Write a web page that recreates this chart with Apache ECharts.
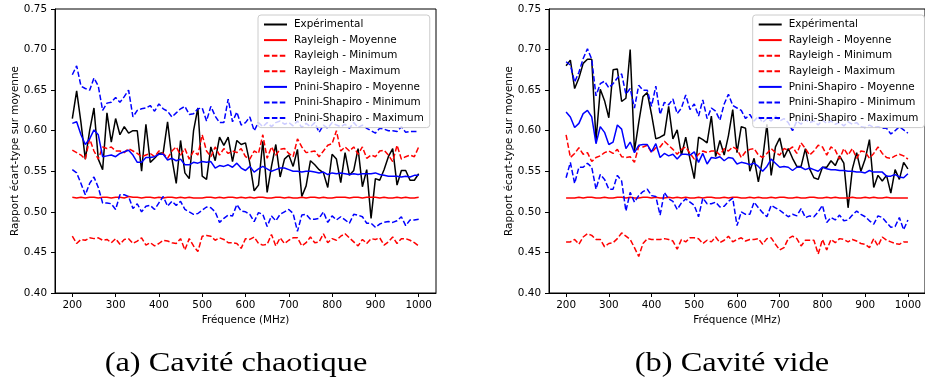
<!DOCTYPE html>
<html>
<head>
<meta charset="utf-8">
<script src="https://cdn.jsdelivr.net/npm/echarts@6.0.0/dist/echarts.min.js"></script>
<style>
  html, body { margin: 0; padding: 0; background: #fff; }
  #chart { width: 925px; height: 385px; }
</style>
</head>
<body>
<div id="chart"></div>
<script>
const freq = [
  200, 210, 220, 230, 240, 250, 260, 270, 280, 290,
  300, 310, 320, 330, 340, 350, 360, 370, 380, 390,
  400, 410, 420, 430, 440, 450, 460, 470, 480, 490,
  500, 510, 520, 530, 540, 550, 560, 570, 580, 590,
  600, 610, 620, 630, 640, 650, 660, 670, 680, 690,
  700, 710, 720, 730, 740, 750, 760, 770, 780, 790,
  800, 810, 820, 830, 840, 850, 860, 870, 880, 890,
  900, 910, 920, 930, 940, 950, 960, 970, 980, 990,
  1000
];
const xTicks = [200, 300, 400, 500, 600, 700, 800, 900, 1000];
const yTicks = [0.40, 0.45, 0.50, 0.55, 0.60, 0.65, 0.70, 0.75];

// (a) Cavité chaotique
const expA = [
  0.615, 0.649, 0.610, 0.565, 0.600, 0.628, 0.565, 0.552, 0.622, 0.586,
  0.615, 0.595, 0.605, 0.597, 0.600, 0.600, 0.550, 0.608, 0.561, 0.566,
  0.572, 0.573, 0.611, 0.566, 0.535, 0.588, 0.548, 0.541, 0.600, 0.628,
  0.544, 0.540, 0.580, 0.563, 0.592, 0.582, 0.592, 0.562, 0.588, 0.583,
  0.585, 0.560, 0.526, 0.533, 0.587, 0.524, 0.556, 0.583, 0.543, 0.565,
  0.570, 0.556, 0.577, 0.519, 0.532, 0.563, 0.558, 0.552, 0.548, 0.530,
  0.571, 0.565, 0.536, 0.573, 0.545, 0.551, 0.578, 0.531, 0.552, 0.492,
  0.541, 0.539, 0.552, 0.568, 0.578, 0.533, 0.551, 0.551, 0.539, 0.539,
  0.547
];
const rayMeanA = [
  0.518, 0.517, 0.518, 0.517, 0.518, 0.518, 0.517, 0.518, 0.518, 0.517,
  0.518, 0.518, 0.517, 0.519, 0.518, 0.518, 0.517, 0.518, 0.518, 0.517,
  0.518, 0.517, 0.518, 0.518, 0.517, 0.518, 0.517, 0.518, 0.517, 0.517,
  0.517, 0.518, 0.518, 0.517, 0.518, 0.517, 0.518, 0.518, 0.517, 0.518,
  0.517, 0.518, 0.517, 0.518, 0.518, 0.517, 0.517, 0.518, 0.518, 0.517,
  0.518, 0.517, 0.517, 0.518, 0.517, 0.518, 0.518, 0.517, 0.518, 0.517,
  0.517, 0.518, 0.518, 0.518, 0.517, 0.518, 0.518, 0.517, 0.518, 0.518,
  0.518, 0.517, 0.518, 0.517, 0.517, 0.518, 0.517, 0.518, 0.517, 0.517,
  0.518
];
const rayMinA = [
  0.470, 0.461, 0.466, 0.465, 0.468, 0.467, 0.468, 0.465, 0.466, 0.462,
  0.467, 0.460, 0.466, 0.467, 0.461, 0.464, 0.468, 0.459, 0.462, 0.458,
  0.461, 0.465, 0.464, 0.462, 0.461, 0.467, 0.453, 0.467, 0.458, 0.451,
  0.470, 0.471, 0.470, 0.465, 0.468, 0.466, 0.462, 0.462, 0.461, 0.455,
  0.467, 0.466, 0.469, 0.461, 0.459, 0.460, 0.472, 0.458, 0.468, 0.461,
  0.465, 0.468, 0.468, 0.458, 0.462, 0.469, 0.462, 0.463, 0.473, 0.462,
  0.467, 0.465, 0.470, 0.473, 0.468, 0.463, 0.458, 0.466, 0.461, 0.467,
  0.466, 0.468, 0.459, 0.463, 0.469, 0.461, 0.467, 0.467, 0.465, 0.462,
  0.458
];
const rayMaxA = [
  0.576, 0.573, 0.570, 0.565, 0.590, 0.575, 0.565, 0.580, 0.578, 0.580,
  0.575, 0.575, 0.573, 0.578, 0.575, 0.572, 0.568, 0.570, 0.572, 0.568,
  0.575, 0.572, 0.566, 0.575, 0.580, 0.570, 0.578, 0.565, 0.575, 0.570,
  0.595, 0.575, 0.568, 0.580, 0.570, 0.578, 0.572, 0.575, 0.573, 0.578,
  0.568, 0.565, 0.575, 0.572, 0.595, 0.566, 0.580, 0.570, 0.577, 0.578,
  0.572, 0.568, 0.590, 0.580, 0.573, 0.574, 0.575, 0.568, 0.575, 0.582,
  0.584, 0.600, 0.575, 0.580, 0.575, 0.580, 0.571, 0.580, 0.566, 0.570,
  0.568, 0.575, 0.576, 0.570, 0.562, 0.582, 0.565, 0.568, 0.570, 0.568,
  0.580
];
const psMeanA = [
  0.609, 0.611, 0.595, 0.583, 0.590, 0.601, 0.595, 0.568, 0.569, 0.570,
  0.568, 0.572, 0.574, 0.576, 0.570, 0.561, 0.561, 0.567, 0.567, 0.568,
  0.571, 0.571, 0.564, 0.566, 0.563, 0.565, 0.558, 0.558, 0.561, 0.560,
  0.562, 0.561, 0.562, 0.554, 0.557, 0.556, 0.558, 0.555, 0.560, 0.554,
  0.551, 0.556, 0.549, 0.553, 0.556, 0.553, 0.550, 0.552, 0.554, 0.554,
  0.552, 0.550, 0.550, 0.549, 0.550, 0.550, 0.549, 0.548, 0.549, 0.546,
  0.548, 0.547, 0.548, 0.547, 0.546, 0.547, 0.546, 0.547, 0.547, 0.547,
  0.548, 0.546, 0.545, 0.544, 0.544, 0.544, 0.543, 0.544, 0.543, 0.545,
  0.545
];
const psMinA = [
  0.552, 0.548, 0.535, 0.521, 0.535, 0.543, 0.530, 0.511, 0.511, 0.510,
  0.503, 0.521, 0.521, 0.519, 0.504, 0.510, 0.500, 0.507, 0.508, 0.503,
  0.511, 0.519, 0.507, 0.513, 0.508, 0.513, 0.503, 0.500, 0.497, 0.498,
  0.502, 0.506, 0.505, 0.500, 0.487, 0.492, 0.496, 0.495, 0.509, 0.501,
  0.500, 0.497, 0.488, 0.499, 0.497, 0.482, 0.495, 0.489, 0.497, 0.500,
  0.503, 0.498, 0.476, 0.496, 0.497, 0.491, 0.491, 0.492, 0.500, 0.487,
  0.495, 0.490, 0.494, 0.490, 0.486, 0.497, 0.496, 0.494, 0.486, 0.486,
  0.481, 0.485, 0.487, 0.488, 0.487, 0.489, 0.494, 0.483, 0.490, 0.490,
  0.491
];
const psMaxA = [
  0.669, 0.680, 0.655, 0.652, 0.650, 0.665, 0.655, 0.625, 0.634, 0.635,
  0.641, 0.635, 0.642, 0.650, 0.617, 0.625, 0.627, 0.628, 0.631, 0.624,
  0.633, 0.627, 0.624, 0.617, 0.622, 0.627, 0.630, 0.620, 0.621, 0.627,
  0.628, 0.612, 0.630, 0.618, 0.610, 0.610, 0.639, 0.611, 0.623, 0.607,
  0.610, 0.617, 0.600, 0.610, 0.605, 0.610, 0.605, 0.610, 0.612, 0.608,
  0.610, 0.606, 0.612, 0.604, 0.609, 0.605, 0.610, 0.598, 0.607, 0.603,
  0.610, 0.607, 0.605, 0.608, 0.603, 0.610, 0.604, 0.607, 0.603, 0.600,
  0.597, 0.603, 0.602, 0.600, 0.600, 0.599, 0.605, 0.598, 0.599, 0.599,
  0.599
];

// (b) Cavité vide
const expB = [
  0.680, 0.687, 0.652, 0.665, 0.683, 0.688, 0.688, 0.588, 0.651, 0.637,
  0.616, 0.675, 0.676, 0.636, 0.640, 0.700, 0.575, 0.610, 0.642, 0.647,
  0.620, 0.590, 0.592, 0.595, 0.630, 0.590, 0.601, 0.570, 0.592, 0.565,
  0.541, 0.592, 0.589, 0.585, 0.618, 0.568, 0.588, 0.570, 0.594, 0.626,
  0.573, 0.605, 0.603, 0.550, 0.566, 0.537, 0.565, 0.608, 0.545, 0.580,
  0.591, 0.567, 0.578, 0.566, 0.556, 0.556, 0.578, 0.553, 0.542, 0.540,
  0.555, 0.555, 0.563, 0.557, 0.569, 0.560, 0.505, 0.553, 0.573, 0.550,
  0.565, 0.589, 0.530, 0.545, 0.538, 0.545, 0.523, 0.552, 0.540, 0.561,
  0.553
];
const rayMeanB = [
  0.517, 0.517, 0.517, 0.518, 0.517, 0.518, 0.518, 0.517, 0.517, 0.518,
  0.517, 0.517, 0.518, 0.518, 0.517, 0.518, 0.517, 0.517, 0.518, 0.518,
  0.517, 0.518, 0.517, 0.517, 0.518, 0.517, 0.518, 0.517, 0.518, 0.517,
  0.517, 0.518, 0.517, 0.518, 0.518, 0.517, 0.517, 0.518, 0.517, 0.518,
  0.518, 0.517, 0.517, 0.518, 0.517, 0.518, 0.517, 0.517, 0.518, 0.517,
  0.518, 0.518, 0.517, 0.517, 0.518, 0.517, 0.517, 0.518, 0.518, 0.517,
  0.517, 0.518, 0.517, 0.518, 0.517, 0.517, 0.517, 0.518, 0.517, 0.517,
  0.518, 0.517, 0.518, 0.517, 0.517, 0.518, 0.517, 0.517, 0.517, 0.517,
  0.517
];
const rayMinB = [
  0.463, 0.463, 0.466, 0.460, 0.469, 0.473, 0.471, 0.466, 0.466, 0.457,
  0.461, 0.462, 0.467, 0.474, 0.470, 0.466, 0.456, 0.445, 0.461, 0.467,
  0.466, 0.466, 0.466, 0.467, 0.466, 0.464, 0.454, 0.466, 0.463, 0.468,
  0.468, 0.467, 0.461, 0.465, 0.463, 0.469, 0.462, 0.465, 0.470, 0.463,
  0.466, 0.468, 0.464, 0.466, 0.466, 0.467, 0.460, 0.467, 0.468, 0.460,
  0.453, 0.456, 0.467, 0.470, 0.467, 0.458, 0.465, 0.465, 0.465, 0.448,
  0.466, 0.453, 0.466, 0.462, 0.467, 0.466, 0.463, 0.466, 0.464, 0.461,
  0.460, 0.456, 0.467, 0.458, 0.469, 0.465, 0.463, 0.461, 0.460, 0.463,
  0.463
];
const rayMaxB = [
  0.595, 0.567, 0.572, 0.579, 0.571, 0.573, 0.562, 0.567, 0.569, 0.573,
  0.575, 0.572, 0.577, 0.568, 0.567, 0.568, 0.561, 0.581, 0.580, 0.582,
  0.573, 0.579, 0.580, 0.587, 0.582, 0.577, 0.571, 0.577, 0.580, 0.572,
  0.565, 0.571, 0.575, 0.573, 0.575, 0.575, 0.570, 0.578, 0.575, 0.580,
  0.577, 0.567, 0.574, 0.577, 0.578, 0.570, 0.567, 0.572, 0.578, 0.573,
  0.570, 0.578, 0.576, 0.580, 0.572, 0.585, 0.578, 0.570, 0.575, 0.582,
  0.580, 0.570, 0.580, 0.576, 0.565, 0.578, 0.570, 0.578, 0.566, 0.575,
  0.574, 0.566, 0.572, 0.580, 0.572, 0.567, 0.566, 0.569, 0.571, 0.569,
  0.565
];
const psMeanB = [
  0.623, 0.617, 0.604, 0.609, 0.621, 0.625, 0.617, 0.584, 0.605, 0.598,
  0.583, 0.586, 0.607, 0.602, 0.578, 0.586, 0.573, 0.582, 0.583, 0.583,
  0.574, 0.584, 0.567, 0.572, 0.569, 0.571, 0.565, 0.571, 0.571, 0.570,
  0.574, 0.561, 0.572, 0.559, 0.567, 0.566, 0.568, 0.563, 0.567, 0.566,
  0.559, 0.561, 0.560, 0.558, 0.560, 0.556, 0.550, 0.556, 0.565, 0.560,
  0.555, 0.556, 0.555, 0.551, 0.555, 0.555, 0.552, 0.554, 0.552, 0.550,
  0.555, 0.553, 0.552, 0.552, 0.551, 0.551, 0.550, 0.550, 0.549, 0.549,
  0.548, 0.551, 0.549, 0.549, 0.549, 0.544, 0.544, 0.546, 0.543, 0.542,
  0.547
];
const psMinB = [
  0.542, 0.561, 0.535, 0.555, 0.555, 0.560, 0.555, 0.528, 0.546, 0.540,
  0.528, 0.528, 0.545, 0.538, 0.501, 0.524, 0.512, 0.520, 0.525, 0.528,
  0.520, 0.519, 0.496, 0.524, 0.516, 0.513, 0.503, 0.511, 0.516, 0.512,
  0.508, 0.494, 0.517, 0.510, 0.510, 0.512, 0.506, 0.507, 0.513, 0.517,
  0.483, 0.500, 0.497, 0.497, 0.512, 0.505, 0.499, 0.494, 0.508, 0.505,
  0.502, 0.498, 0.494, 0.497, 0.495, 0.504, 0.493, 0.495, 0.494, 0.500,
  0.508, 0.487, 0.493, 0.490, 0.496, 0.489, 0.490, 0.496, 0.501, 0.497,
  0.494, 0.489, 0.485, 0.495, 0.493, 0.487, 0.481, 0.482, 0.493, 0.478,
  0.490
];
const psMaxB = [
  0.685, 0.681, 0.660, 0.672, 0.689, 0.701, 0.688, 0.643, 0.658, 0.661,
  0.653, 0.658, 0.665, 0.670, 0.645, 0.652, 0.628, 0.656, 0.650, 0.650,
  0.630, 0.655, 0.620, 0.635, 0.632, 0.639, 0.621, 0.628, 0.644, 0.626,
  0.633, 0.618, 0.638, 0.615, 0.628, 0.624, 0.613, 0.633, 0.645, 0.631,
  0.628, 0.625, 0.615, 0.620, 0.612, 0.618, 0.610, 0.615, 0.612, 0.618,
  0.612, 0.615, 0.610, 0.600, 0.612, 0.608, 0.614, 0.610, 0.612, 0.607,
  0.613, 0.609, 0.612, 0.608, 0.610, 0.606, 0.611, 0.608, 0.610, 0.605,
  0.604, 0.607, 0.604, 0.605, 0.603, 0.603, 0.596, 0.600, 0.605, 0.601,
  0.597
];

const seriesNames = [
  'Expérimental',
  'Rayleigh - Moyenne',
  'Rayleigh - Minimum',
  'Rayleigh - Maximum',
  'Pnini-Shapiro - Moyenne',
  'Pnini-Shapiro - Minimum',
  'Pnini-Shapiro - Maximum',
];
const captions = ['(a) Cavité chaotique', '(b) Cavité vide'];

const panels = [
  [expA, rayMeanA, rayMinA, rayMaxA, psMeanA, psMinA, psMaxA],
  [expB, rayMeanB, rayMinB, rayMaxB, psMeanB, psMinB, psMaxB],
];
const colors = ['#000000', '#ff0000', '#ff0000', '#ff0000', '#0000ff', '#0000ff', '#0000ff'];
const dashed = [false, false, true, true, false, true, true];

const font = 'DejaVu Sans';
const tickFont = { color: '#000', fontSize: 10.4, fontFamily: font };
const gridLefts = [55, 549];
const legendLefts = [258, 752.7];
const captionX = [236, 732];

const chart = echarts.init(document.getElementById('chart'), null, { renderer: 'canvas' });

const series = [];
panels.forEach((arrs, p) => {
  arrs.forEach((arr, k) => {
    series.push({
      name: seriesNames[k],
      type: 'line',
      xAxisIndex: p,
      yAxisIndex: p,
      data: freq.map((f, i) => [f, arr[i]]),
      symbol: 'none',
      showSymbol: false,
      smooth: false,
      lineStyle: {
        color: colors[k],
        width: 1.5,
        type: dashed[k] ? [5.5, 2.4] : 'solid',
      },
      itemStyle: { color: colors[k] },
      emphasis: { disabled: true },
    });
  });
});

chart.setOption({
  animation: false,
  backgroundColor: '#ffffff',
  grid: gridLefts.map((left) => ({
    left,
    top: 9,
    width: 381,
    height: 284,
    show: true,
    borderColor: '#000',
    borderWidth: 1,
    backgroundColor: 'transparent',
  })),
  xAxis: gridLefts.map((_, p) => ({
    type: 'value',
    gridIndex: p,
    min: 160,
    max: 1040,
    name: 'Fréquence (MHz)',
    nameLocation: 'middle',
    nameGap: 22,
    nameTextStyle: { color: '#000', fontSize: 10.4, fontFamily: font },
    axisLine: { show: true, lineStyle: { color: '#000', width: 1 } },
    axisTick: { show: true, length: 4, customValues: xTicks, lineStyle: { color: '#000' } },
    axisLabel: { ...tickFont, margin: 7, customValues: xTicks, formatter: (v) => String(v) },
    splitLine: { show: false },
  })),
  yAxis: gridLefts.map((_, p) => ({
    type: 'value',
    gridIndex: p,
    min: 0.40,
    max: 0.75,
    name: 'Rapport écart-type sur moyenne',
    nameLocation: 'middle',
    nameGap: 35,
    nameTextStyle: { color: '#000', fontSize: 10.4, fontFamily: font },
    axisLine: { show: true, lineStyle: { color: '#000', width: 1 } },
    axisTick: { show: true, length: 4, customValues: yTicks, lineStyle: { color: '#000' } },
    axisLabel: { ...tickFont, margin: 8, customValues: yTicks, formatter: (v) => v.toFixed(2) },
    splitLine: { show: false },
  })),
  legend: legendLefts.map((left) => ({
    data: seriesNames,
    orient: 'vertical',
    left,
    top: 15,
    itemWidth: 23,
    itemHeight: 10,
    itemGap: 2.6,
    padding: [3, 6, 3, 5],
    backgroundColor: 'rgba(255,255,255,0.8)',
    borderColor: '#cccccc',
    borderWidth: 1,
    borderRadius: 3,
    selectedMode: false,
    itemStyle: { opacity: 0 },
    textStyle: { color: '#000', fontSize: 10.4, fontFamily: font, lineHeight: 13, padding: [0, 0, 0, 2] },
  })),
  graphic: captions.map((text, p) => ({
    type: 'text',
    x: captionX[p],
    y: 364,
    scaleX: 1.2,
    style: {
      text,
      fill: '#000',
      font: '27px "Liberation Serif"',
      textAlign: 'center',
      textVerticalAlign: 'middle',
    },
  })),
  series,
});

window.addEventListener('resize', () => chart.resize());
</script>
</body>
</html>
